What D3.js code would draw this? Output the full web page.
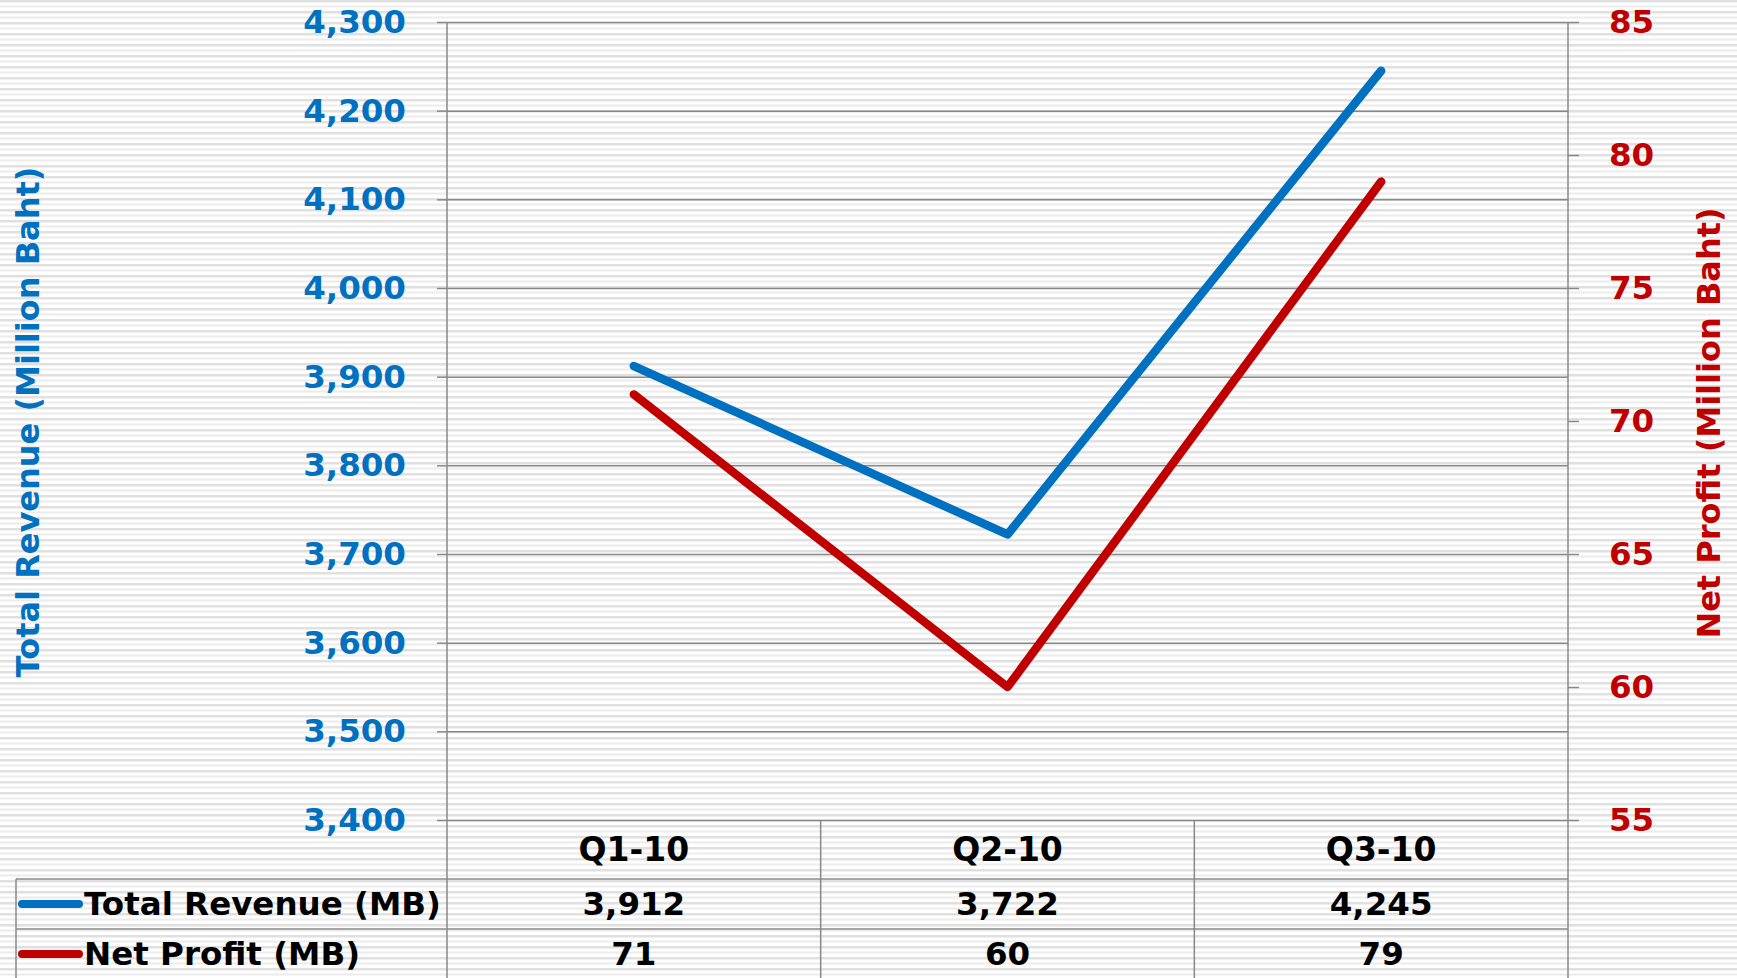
<!DOCTYPE html>
<html>
<head>
<meta charset="utf-8">
<script src="https://cdn.jsdelivr.net/npm/d3@7"></script>
<style>
  body { margin: 0; background: #fff; }
  text { font-family: "DejaVu Sans", Verdana, sans-serif; font-weight: bold; }
</style>
</head>
<body>
<div id="viz"></div>
<script>
// chart data
const quarters = ["Q1-10", "Q2-10", "Q3-10"];
const revenue = [3912, 3722, 4245];
const profit = [71, 60, 79];
const seriesNames = ["Total Revenue (MB)", "Net Profit (MB)"];
const leftTicks = [3400, 3500, 3600, 3700, 3800, 3900, 4000, 4100, 4200, 4300];
const rightTicks = [55, 60, 65, 70, 75, 80, 85];

// layout
const outerWidth = 1737,
    outerHeight = 978,
    plot = {left: 447, right: 1568, top: 22, bottom: 820},
    rowH = [59, 50, 50], // header row, revenue row, profit row
    tableLeft = 16;

const blue = "#0070c0", red = "#c00000", grid = "#888888";

window.onload = function main () {

const svg = d3.select("#viz").append("svg")
    .attr("width", outerWidth)
    .attr("height", outerHeight);

// striped background
const pat = svg.append("defs").append("pattern")
    .attr("id", "stripes")
    .attr("patternUnits", "userSpaceOnUse")
    .attr("width", 11).attr("height", 11);
pat.append("rect").attr("width", 11).attr("height", 11).attr("fill", "#fff");
pat.append("rect").attr("y", 0).attr("width", 11).attr("height", 2.5).attr("fill", "#e0e0e0");
pat.append("rect").attr("y", 5.5).attr("width", 11).attr("height", 2).attr("fill", "#ececec");

svg.append("rect")
    .attr("width", outerWidth).attr("height", outerHeight)
    .attr("fill", "url(#stripes)");

// scales
const x = d3.scaleBand().domain(quarters).range([plot.left, plot.right]);
const cx = d => x(d) + x.bandwidth() / 2;
const yL = d3.scaleLinear().domain([3400, 4300]).range([plot.bottom, plot.top]);
const yR = d3.scaleLinear().domain([55, 85]).range([plot.bottom, plot.top]);

// gridlines
svg.append("g")
    .attr("transform", "translate(" + plot.left + ",0)")
    .call(d3.axisLeft(yL).tickValues(leftTicks).tickSize(-(plot.right - plot.left)).tickFormat(""))
    .call(g => g.select(".domain").remove())
    .call(g => g.selectAll("line").attr("stroke", grid).attr("stroke-width", 1.5));

// left axis
svg.append("g")
    .attr("transform", "translate(" + plot.left + ",0)")
    .call(d3.axisLeft(yL).tickValues(leftTicks).tickSize(10).tickPadding(31).tickFormat(d3.format(",")))
    .call(g => g.select(".domain").remove())
    .call(g => g.selectAll("line").attr("stroke", grid).attr("stroke-width", 1.5))
    .call(g => g.selectAll("text")
        .attr("fill", blue)
        .style("font-size", "32.5px")
        .style("font-family", "'DejaVu Sans', Verdana, sans-serif")
        .style("font-weight", "bold"));

// right axis
svg.append("g")
    .attr("transform", "translate(" + plot.right + ",0)")
    .call(d3.axisRight(yR).tickValues(rightTicks).tickSize(11).tickPadding(30))
    .call(g => g.select(".domain").remove())
    .call(g => g.selectAll("line").attr("stroke", grid).attr("stroke-width", 1.5))
    .call(g => g.selectAll("text")
        .attr("fill", red)
        .style("font-size", "32.5px")
        .style("font-family", "'DejaVu Sans', Verdana, sans-serif")
        .style("font-weight", "bold"));

// table rows
const tableTop = plot.bottom,
    row1 = tableTop + rowH[0],
    row2 = row1 + rowH[1],
    row3 = row2 + rowH[2];

// vertical lines: axes continue through the table, plus category dividers
const vx = [plot.left].concat(quarters.map(q => x(q) + x.bandwidth()));
svg.selectAll(".vline").data(vx).enter().append("line")
    .attr("x1", d => d).attr("x2", d => d)
    .attr("y1", (d, i) => (i === 0 || i === vx.length - 1) ? plot.top : tableTop)
    .attr("y2", outerHeight)
    .attr("stroke", grid).attr("stroke-width", 1.5);

svg.append("line")
    .attr("x1", tableLeft).attr("x2", tableLeft)
    .attr("y1", row1).attr("y2", outerHeight)
    .attr("stroke", grid).attr("stroke-width", 1.5);

svg.selectAll(".hline").data([row1, row2, row3]).enter().append("line")
    .attr("x1", tableLeft).attr("x2", plot.right)
    .attr("y1", d => d).attr("y2", d => d)
    .attr("stroke", grid).attr("stroke-width", 1.5);

// category labels
svg.selectAll(".cat").data(quarters).enter().append("text")
    .attr("x", cx).attr("y", tableTop + rowH[0] / 2 + 11)
    .attr("text-anchor", "middle")
    .style("font-size", "33px")
    .text(d => d);

// value rows
const rows = [
    {name: seriesNames[0], vals: revenue, color: blue, y: row1 + rowH[1] / 2},
    {name: seriesNames[1], vals: profit, color: red, y: row2 + rowH[2] / 2}
];
rows.forEach(function (r) {
    svg.append("line")
        .attr("x1", 22).attr("x2", 79)
        .attr("y1", r.y).attr("y2", r.y)
        .attr("stroke", r.color).attr("stroke-width", 8)
        .attr("stroke-linecap", "round");
    svg.append("text")
        .attr("x", 84).attr("y", r.y + 11)
        .style("font-size", "32.5px")
        .text(r.name);
    svg.selectAll(null).data(r.vals).enter().append("text")
        .attr("x", (d, i) => cx(quarters[i])).attr("y", r.y + 11)
        .attr("text-anchor", "middle")
        .style("font-size", "32.5px")
        .text(d => d3.format(",")(d));
});

// lines
const revLine = d3.line().x((d, i) => cx(quarters[i])).y(d => yL(d));
const proLine = d3.line().x((d, i) => cx(quarters[i])).y(d => yR(d));

svg.append("path").datum(revenue)
    .attr("d", revLine)
    .attr("fill", "none").attr("stroke", blue).attr("stroke-width", 8.5)
    .attr("stroke-linecap", "round").attr("stroke-linejoin", "round");
svg.append("path").datum(profit)
    .attr("d", proLine)
    .attr("fill", "none").attr("stroke", red).attr("stroke-width", 8.5)
    .attr("stroke-linecap", "round").attr("stroke-linejoin", "round");

// axis titles
svg.append("text")
    .attr("transform", "translate(39," + 422 + ") rotate(-90)")
    .attr("text-anchor", "middle")
    .attr("fill", blue)
    .style("font-size", "32px")
    .text("Total Revenue (Million Baht)");

svg.append("text")
    .attr("transform", "translate(1720," + 423 + ") rotate(-90)")
    .attr("text-anchor", "middle")
    .attr("fill", red)
    .style("font-size", "32px")
    .text("Net Profit (Million Baht)");

};
</script>
</body>
</html>
